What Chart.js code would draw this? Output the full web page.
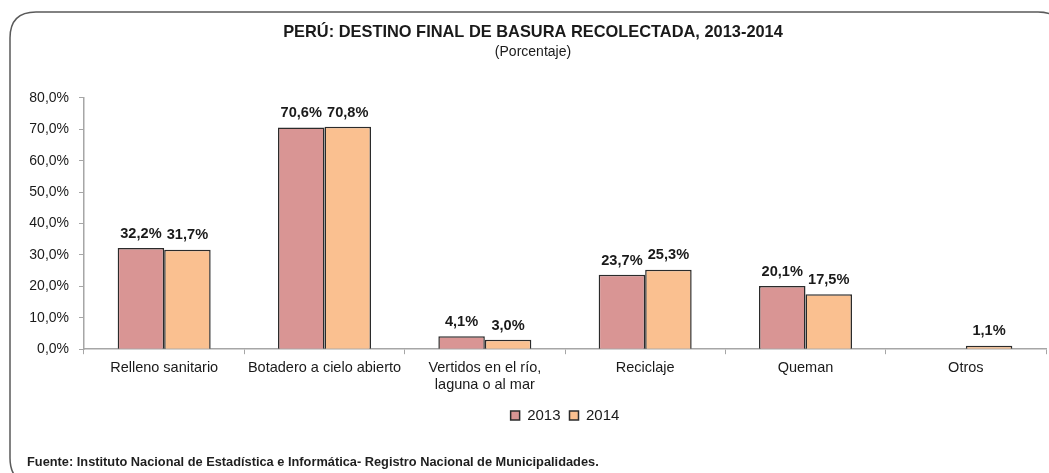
<!DOCTYPE html>
<html>
<head>
<meta charset="utf-8">
<script src="https://cdn.jsdelivr.net/npm/chart.js@4/dist/chart.umd.min.js"></script>
<style>
  html, body { margin: 0; padding: 0; background: #fff; }
  #wrap { width: 1049px; height: 473px; position: relative; }
</style>
</head>
<body>
<div id="wrap"><canvas id="chart"></canvas></div>
<script>
var categories = [
    'Relleno sanitario',
    'Botadero a cielo abierto',
    ['Vertidos en el río,', 'laguna o al mar'],
    'Reciclaje',
    'Queman',
    'Otros'
];
var values2013 = [32.2, 70.6, 4.1, 23.7, 20.1, null];
var values2014 = [31.7, 70.8, 3.0, 25.3, 17.5, 1.1];
var yTicks = [0, 10, 20, 30, 40, 50, 60, 70, 80];

var FONT = "'Liberation Sans', Arial, sans-serif";

function pct(v) {
    return v.toFixed(1).replace('.', ',') + '%';
}

// rounded frame + source note
var framePlugin = {
    id: 'frame',
    beforeDraw: function (chart) {
        var ctx = chart.ctx;
        var x = 10, y = 12, w = 1054, h = 472, r = 26;
        ctx.save();
        ctx.strokeStyle = '#5a5a5a';
        ctx.lineWidth = 1.5;
        ctx.beginPath();
        ctx.moveTo(x + r, y);
        ctx.lineTo(x + w - r, y);
        ctx.quadraticCurveTo(x + w, y, x + w, y + r);
        ctx.lineTo(x + w, y + h - r);
        ctx.quadraticCurveTo(x + w, y + h, x + w - r, y + h);
        ctx.lineTo(x + r, y + h);
        ctx.quadraticCurveTo(x, y + h, x, y + h - r);
        ctx.lineTo(x, y + r);
        ctx.quadraticCurveTo(x, y, x + r, y);
        ctx.stroke();
        ctx.restore();
    },
    afterDraw: function (chart) {
        var ctx = chart.ctx;
        ctx.save();
        ctx.fillStyle = '#1f1f1f';
        ctx.font = 'bold 12.8px ' + FONT;
        ctx.textBaseline = 'middle';
        ctx.fillText('Fuente: Instituto Nacional de Estadística e Informática- Registro Nacional de Municipalidades.', 27, 462);
        ctx.restore();
    }
};

// value labels above each bar
var labelPlugin = {
    id: 'barLabels',
    afterDatasetsDraw: function (chart) {
        var ctx = chart.ctx;
        ctx.save();
        ctx.fillStyle = '#1a1a1a';
        ctx.font = 'bold 14.6px ' + FONT;
        ctx.textAlign = 'center';
        ctx.textBaseline = 'bottom';
        chart.data.datasets.forEach(function (ds, i) {
            chart.getDatasetMeta(i).data.forEach(function (bar, j) {
                var v = ds.data[j];
                if (v === null || v === undefined) return;
                ctx.fillText(pct(v), bar.x, bar.y - 7);
            });
        });
        ctx.restore();
    }
};

new Chart(document.getElementById('chart'), {
    type: 'bar',
    data: {
        labels: categories,
        datasets: [
            {
                label: '2013',
                data: values2013,
                backgroundColor: '#d99594',
                borderColor: '#2b2b2b',
                borderWidth: 1.5
            },
            {
                label: '2014',
                data: values2014,
                backgroundColor: '#fac090',
                borderColor: '#2b2b2b',
                borderWidth: 1.5
            }
        ]
    },
    options: {
        responsive: true,
        maintainAspectRatio: false,
        animation: false,
        layout: { padding: { top: 23, left: 20, right: 3, bottom: 40 } },
        datasets: { bar: { categoryPercentage: 0.58, barPercentage: 1.0 } },
        plugins: {
            title: {
                display: true,
                text: 'PERÚ: DESTINO FINAL DE BASURA RECOLECTADA, 2013-2014',
                color: '#1a1a1a',
                font: { family: FONT, size: 16.4, weight: 'bold' },
                padding: { top: 0, bottom: 1.5 }
            },
            subtitle: {
                display: true,
                text: '(Porcentaje)',
                color: '#1a1a1a',
                font: { family: FONT, size: 14 },
                padding: { top: 0, bottom: 37 }
            },
            legend: {
                position: 'bottom',
                fullSize: false,
                labels: {
                    boxWidth: 9,
                    boxHeight: 9,
                    padding: 9,
                    color: '#1a1a1a',
                    font: { family: FONT, size: 15 }
                }
            },
            tooltip: { enabled: false }
        },
        scales: {
            x: {
                grid: { display: true, drawOnChartArea: false, drawTicks: true, tickLength: 5, color: '#a6a6a6' },
                border: { display: true, color: '#a6a6a6', width: 1.5 },
                ticks: {
                    color: '#1a1a1a',
                    font: { family: FONT, size: 14.5 },
                    padding: 5,
                    maxRotation: 0,
                    autoSkip: false
                }
            },
            y: {
                min: 0,
                max: 80,
                afterBuildTicks: function (scale) {
                    scale.ticks = yTicks.map(function (v) { return { value: v }; });
                },
                afterFit: function (scale) { scale.width = 64; },
                grid: { display: true, drawOnChartArea: false, drawTicks: true, tickLength: 5, color: '#a6a6a6' },
                border: { display: true, color: '#a6a6a6', width: 1.5 },
                ticks: {
                    color: '#1a1a1a',
                    font: { family: FONT, size: 14 },
                    padding: 10,
                    callback: function (v) { return pct(v); }
                }
            }
        }
    },
    plugins: [framePlugin, labelPlugin]
});
</script>
</body>
</html>
